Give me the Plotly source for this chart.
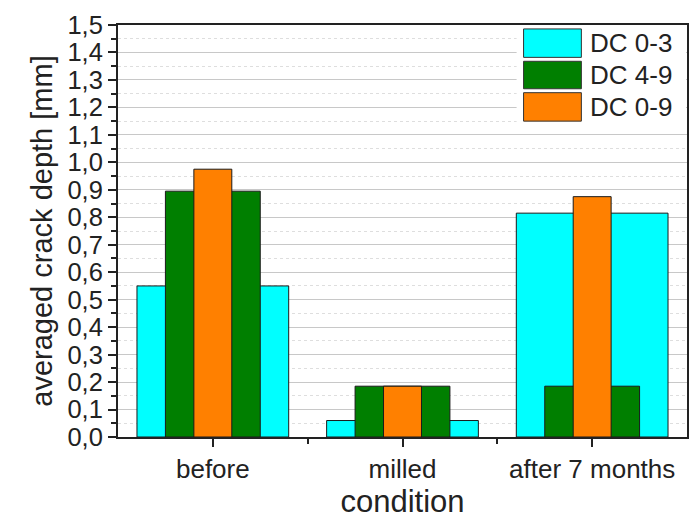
import plotly.graph_objects as go

categories = ["before", "milled", "after 7 months"]
series_names = ["DC 0-3", "DC 4-9", "DC 0-9"]
dc_0_3 = [0.55, 0.06, 0.815]
dc_4_9 = [0.895, 0.185, 0.185]
dc_0_9 = [0.975, 0.185, 0.875]
y_ticks = [round(i * 0.1, 1) for i in range(16)]

colors = ["#00FFFF", "#007F00", "#FF8000"]
widths = [0.8, 0.5, 0.2]
xpos = list(range(len(categories)))

FONT = "Liberation Sans, Arial, sans-serif"

fig = go.Figure()
for name, vals, col, w in zip(series_names, [dc_0_3, dc_4_9, dc_0_9], colors, widths):
    fig.add_trace(go.Bar(
        x=xpos, y=vals, name=name, width=w,
        marker=dict(color=col, line=dict(color="#1a1a1a", width=1)),
        showlegend=False,
    ))

# manual legend (large swatches as in the reference)
L, R, T, B = 118, 689, 20, 440
def px(x):
    return (x - L) / (R - L)
def py(y):
    return (B - y) / (B - T)

fig.add_shape(type="rect", xref="paper", yref="paper",
              x0=px(518), x1=px(688), y0=py(124), y1=py(21),
              line=dict(width=0), fillcolor="white", layer="above")
sw = [(24, 53), (57, 85), (89, 118)]
for (t, b), col, name in zip(sw, colors, series_names):
    fig.add_shape(type="rect", xref="paper", yref="paper",
                  x0=px(525), x1=px(583), y0=py(b), y1=py(t),
                  line=dict(color="#333", width=1), fillcolor=col, layer="above")
    fig.add_annotation(xref="paper", yref="paper", x=px(590), y=py((t + b) / 2),
                       text=name, showarrow=False, xanchor="left", yanchor="middle",
                       font=dict(family=FONT, size=26, color="#222"))

fig.update_layout(
    width=700, height=521,
    margin=dict(l=118, r=11, t=20, b=81),
    paper_bgcolor="white", plot_bgcolor="white",
    barmode="overlay",
    separators=",.",
    font=dict(family=FONT, color="#222"),
    showlegend=False,
)
fig.update_xaxes(
    range=[-0.5, 2.5],
    tickmode="array", tickvals=xpos, ticktext=categories,
    tickfont=dict(size=26, family=FONT, color="#222"),
    ticks="outside", ticklen=8, tickwidth=1.5, tickcolor="#222",
    minor=dict(tickmode="array", tickvals=[0.5, 1.5], ticks="outside", ticklen=5, tickwidth=1.5, tickcolor="#222"),
    showline=True, linecolor="#222", linewidth=2, mirror=True,
    showgrid=False, zeroline=False,
    title=dict(text="condition", font=dict(size=31, family=FONT, color="#222"), standoff=4),
)
fig.update_yaxes(
    range=[0, 1.5],
    tickmode="array", tickvals=y_ticks, tickformat=".1f",
    tickfont=dict(size=25.5, family=FONT, color="#222"),
    ticks="outside", ticklen=8, tickwidth=1.5, tickcolor="#222",
    minor=dict(dtick=0.05, tick0=0, ticks="outside", ticklen=5, tickwidth=1.5, tickcolor="#222",
               showgrid=True, gridcolor="#dedede", griddash="dot", gridwidth=1),
    showline=True, linecolor="#222", linewidth=2, mirror=True,
    showgrid=True, gridcolor="#c8c8c8", gridwidth=1.2,
    zeroline=False,
    title=dict(text="averaged crack depth [mm]", font=dict(size=29, family=FONT, color="#222"), standoff=6),
)

fig.write_html("out.html")
